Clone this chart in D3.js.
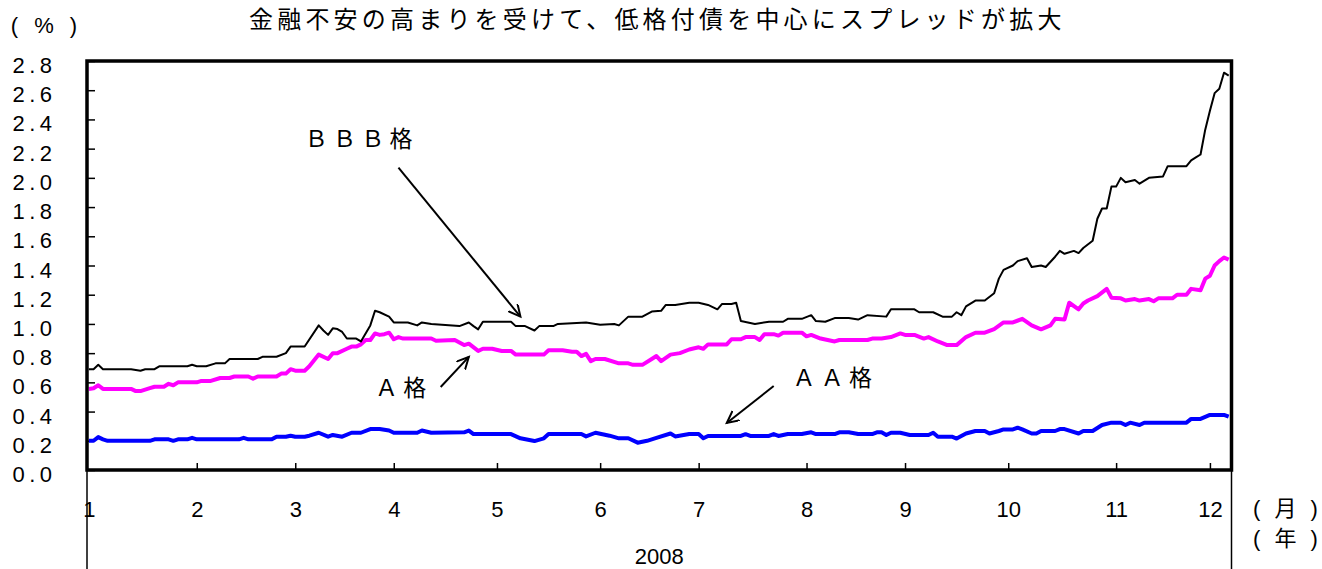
<!DOCTYPE html>
<html lang="ja">
<head>
    <meta charset="UTF-8">
    <title>社債スプレッド 2008</title>
    <!--D3 version 7-->
    <script src="https://d3js.org/d3.v7.min.js"></script>
</head>

<style>
    body {
        margin: 0;
        padding: 0;
        background: #fff;
    }

    svg {
        display: block;
    }

    .num {
        font-family: "Liberation Sans", Arial, sans-serif;
        font-size: 22px;
    }

    .cjk {
        font-family: "Noto Sans CJK JP", sans-serif;
    }
</style>

<body>
<div class="chart-container"></div>

<script>
  /** DATA: [date, spread %] */
  var bbbSeries = [
    ["2008-01-01", 0.69], ["2008-01-02", 0.69], ["2008-01-03", 0.72], ["2008-01-04", 0.69],
    ["2008-01-14", 0.69], ["2008-01-16", 0.68], ["2008-01-17", 0.69], ["2008-01-21", 0.69],
    ["2008-01-22", 0.71], ["2008-01-30", 0.71], ["2008-01-31", 0.72], ["2008-02-01", 0.71],
    ["2008-02-05", 0.71], ["2008-02-07", 0.73], ["2008-02-11", 0.73], ["2008-02-12", 0.76],
    ["2008-02-20", 0.76], ["2008-02-21", 0.775], ["2008-02-26", 0.775], ["2008-02-28", 0.80],
    ["2008-02-29", 0.845], ["2008-03-05", 0.845], ["2008-03-10", 0.99], ["2008-03-11", 0.955],
    ["2008-03-12", 0.925], ["2008-03-13", 0.97], ["2008-03-14", 0.965], ["2008-03-17", 0.945],
    ["2008-03-18", 0.90], ["2008-03-20", 0.90], ["2008-03-21", 0.88], ["2008-03-25", 0.99],
    ["2008-03-26", 1.09], ["2008-03-27", 1.08], ["2008-03-31", 1.05], ["2008-04-01", 1.01],
    ["2008-04-04", 1.01], ["2008-04-08", 0.99], ["2008-04-09", 1.01], ["2008-04-11", 1.00],
    ["2008-04-21", 0.985], ["2008-04-23", 1.01], ["2008-04-24", 0.985], ["2008-04-25", 0.963],
    ["2008-04-28", 1.015], ["2008-05-06", 1.015], ["2008-05-07", 0.985], ["2008-05-09", 0.985],
    ["2008-05-13", 0.955], ["2008-05-14", 0.985], ["2008-05-19", 0.985], ["2008-05-20", 1.00],
    ["2008-05-28", 1.01], ["2008-06-02", 0.995], ["2008-06-05", 1.00], ["2008-06-06", 0.99],
    ["2008-06-10", 1.05], ["2008-06-13", 1.05], ["2008-06-17", 1.085], ["2008-06-19", 1.09],
    ["2008-06-20", 1.13], ["2008-06-24", 1.13], ["2008-06-27", 1.145], ["2008-07-01", 1.145],
    ["2008-07-03", 1.13], ["2008-07-07", 1.10], ["2008-07-08", 1.137], ["2008-07-10", 1.137],
    ["2008-07-11", 1.145], ["2008-07-14", 1.02], ["2008-07-17", 1.00], ["2008-07-22", 1.015],
    ["2008-07-25", 1.015], ["2008-07-28", 1.035], ["2008-07-31", 1.035], ["2008-08-04", 1.06],
    ["2008-08-05", 1.02], ["2008-08-07", 1.015], ["2008-08-11", 1.04], ["2008-08-14", 1.04],
    ["2008-08-18", 1.03], ["2008-08-20", 1.06], ["2008-08-26", 1.05], ["2008-08-27", 1.10],
    ["2008-09-03", 1.10], ["2008-09-04", 1.08], ["2008-09-09", 1.08], ["2008-09-11", 1.05],
    ["2008-09-15", 1.05], ["2008-09-16", 1.08], ["2008-09-17", 1.06], ["2008-09-18", 1.12],
    ["2008-09-22", 1.16], ["2008-09-24", 1.16], ["2008-09-26", 1.21], ["2008-09-29", 1.31],
    ["2008-09-30", 1.37], ["2008-10-02", 1.40], ["2008-10-03", 1.43], ["2008-10-07", 1.45],
    ["2008-10-08", 1.39], ["2008-10-10", 1.40], ["2008-10-13", 1.39], ["2008-10-15", 1.46],
    ["2008-10-16", 1.50], ["2008-10-17", 1.48], ["2008-10-21", 1.50], ["2008-10-22", 1.485],
    ["2008-10-23", 1.52], ["2008-10-27", 1.57], ["2008-10-28", 1.72], ["2008-10-29", 1.79],
    ["2008-10-30", 1.79], ["2008-10-31", 1.94], ["2008-11-03", 1.94], ["2008-11-04", 2.00],
    ["2008-11-05", 1.97], ["2008-11-07", 1.985], ["2008-11-10", 1.96], ["2008-11-12", 2.00],
    ["2008-11-17", 2.01], ["2008-11-18", 2.08], ["2008-11-24", 2.08], ["2008-11-25", 2.12],
    ["2008-11-26", 2.14], ["2008-11-27", 2.16], ["2008-11-28", 2.33], ["2008-12-01", 2.46],
    ["2008-12-02", 2.58], ["2008-12-03", 2.61], ["2008-12-04", 2.72], ["2008-12-05", 2.70]
  ];

  var aSeries = [
    ["2008-01-01", 0.555], ["2008-01-02", 0.56], ["2008-01-03", 0.58], ["2008-01-04", 0.555],
    ["2008-01-14", 0.555], ["2008-01-15", 0.54], ["2008-01-16", 0.54], ["2008-01-18", 0.56],
    ["2008-01-21", 0.57], ["2008-01-23", 0.57], ["2008-01-24", 0.59], ["2008-01-25", 0.58],
    ["2008-01-28", 0.60], ["2008-02-01", 0.60], ["2008-02-04", 0.61], ["2008-02-06", 0.61],
    ["2008-02-08", 0.63], ["2008-02-12", 0.63], ["2008-02-13", 0.64], ["2008-02-18", 0.64],
    ["2008-02-19", 0.625], ["2008-02-20", 0.64], ["2008-02-26", 0.64], ["2008-02-27", 0.66],
    ["2008-02-28", 0.66], ["2008-02-29", 0.69], ["2008-03-03", 0.68], ["2008-03-05", 0.68],
    ["2008-03-06", 0.71], ["2008-03-10", 0.79], ["2008-03-12", 0.76], ["2008-03-13", 0.80],
    ["2008-03-14", 0.80], ["2008-03-18", 0.83], ["2008-03-19", 0.845], ["2008-03-20", 0.845],
    ["2008-03-21", 0.86], ["2008-03-24", 0.89], ["2008-03-25", 0.89], ["2008-03-26", 0.935],
    ["2008-03-27", 0.925], ["2008-03-28", 0.93], ["2008-03-31", 0.94], ["2008-04-01", 0.895],
    ["2008-04-02", 0.91], ["2008-04-03", 0.90], ["2008-04-11", 0.90], ["2008-04-14", 0.885],
    ["2008-04-18", 0.89], ["2008-04-22", 0.855], ["2008-04-23", 0.865], ["2008-04-25", 0.815],
    ["2008-04-28", 0.83], ["2008-04-30", 0.83], ["2008-05-02", 0.815], ["2008-05-06", 0.815],
    ["2008-05-07", 0.79], ["2008-05-15", 0.79], ["2008-05-16", 0.82], ["2008-05-21", 0.82],
    ["2008-05-23", 0.81], ["2008-05-26", 0.81], ["2008-05-27", 0.78], ["2008-05-28", 0.795],
    ["2008-05-29", 0.745], ["2008-05-30", 0.76], ["2008-06-03", 0.76], ["2008-06-06", 0.73],
    ["2008-06-10", 0.73], ["2008-06-11", 0.72], ["2008-06-13", 0.72], ["2008-06-17", 0.76],
    ["2008-06-18", 0.78], ["2008-06-19", 0.745], ["2008-06-23", 0.79], ["2008-06-25", 0.80],
    ["2008-06-27", 0.825], ["2008-07-01", 0.84], ["2008-07-02", 0.83], ["2008-07-03", 0.86],
    ["2008-07-09", 0.86], ["2008-07-10", 0.895], ["2008-07-14", 0.895], ["2008-07-15", 0.91],
    ["2008-07-17", 0.91], ["2008-07-18", 0.89], ["2008-07-21", 0.93], ["2008-07-23", 0.93],
    ["2008-07-24", 0.92], ["2008-07-25", 0.94], ["2008-07-31", 0.94], ["2008-08-01", 0.915],
    ["2008-08-04", 0.925], ["2008-08-06", 0.90], ["2008-08-11", 0.88], ["2008-08-12", 0.89],
    ["2008-08-20", 0.89], ["2008-08-21", 0.90], ["2008-08-25", 0.90], ["2008-08-27", 0.91],
    ["2008-08-29", 0.935], ["2008-09-01", 0.925], ["2008-09-03", 0.925], ["2008-09-05", 0.90],
    ["2008-09-08", 0.91], ["2008-09-10", 0.88], ["2008-09-12", 0.855], ["2008-09-16", 0.855],
    ["2008-09-18", 0.91], ["2008-09-22", 0.94], ["2008-09-24", 0.94], ["2008-09-26", 0.965],
    ["2008-09-30", 1.01], ["2008-10-02", 1.01], ["2008-10-06", 1.035], ["2008-10-08", 0.99],
    ["2008-10-10", 0.963], ["2008-10-14", 0.99], ["2008-10-15", 1.035], ["2008-10-17", 1.03],
    ["2008-10-20", 1.145], ["2008-10-22", 1.10], ["2008-10-23", 1.14], ["2008-10-24", 1.16],
    ["2008-10-28", 1.19], ["2008-10-30", 1.24], ["2008-10-31", 1.18], ["2008-11-04", 1.175],
    ["2008-11-05", 1.16], ["2008-11-07", 1.17], ["2008-11-10", 1.16], ["2008-11-12", 1.17],
    ["2008-11-13", 1.155], ["2008-11-14", 1.175], ["2008-11-19", 1.175], ["2008-11-20", 1.20],
    ["2008-11-24", 1.20], ["2008-11-25", 1.24], ["2008-11-27", 1.23], ["2008-11-28", 1.31],
    ["2008-12-01", 1.33], ["2008-12-02", 1.40], ["2008-12-03", 1.43], ["2008-12-04", 1.455],
    ["2008-12-05", 1.44]
  ];

  var aaSeries = [
    ["2008-01-01", 0.20], ["2008-01-02", 0.20], ["2008-01-03", 0.225], ["2008-01-04", 0.21],
    ["2008-01-07", 0.20], ["2008-01-18", 0.20], ["2008-01-21", 0.21], ["2008-01-24", 0.21],
    ["2008-01-25", 0.20], ["2008-01-28", 0.21], ["2008-01-30", 0.21], ["2008-01-31", 0.22],
    ["2008-02-01", 0.21], ["2008-02-14", 0.21], ["2008-02-15", 0.22], ["2008-02-18", 0.21],
    ["2008-02-25", 0.21], ["2008-02-26", 0.228], ["2008-02-28", 0.228], ["2008-02-29", 0.235],
    ["2008-03-03", 0.228], ["2008-03-05", 0.228], ["2008-03-06", 0.235], ["2008-03-10", 0.255],
    ["2008-03-12", 0.228], ["2008-03-13", 0.24], ["2008-03-17", 0.228], ["2008-03-19", 0.255],
    ["2008-03-21", 0.255], ["2008-03-25", 0.28], ["2008-03-27", 0.28], ["2008-03-31", 0.27],
    ["2008-04-01", 0.255], ["2008-04-08", 0.255], ["2008-04-09", 0.27], ["2008-04-11", 0.255],
    ["2008-04-22", 0.258], ["2008-04-23", 0.27], ["2008-04-24", 0.246], ["2008-05-06", 0.246],
    ["2008-05-08", 0.217], ["2008-05-13", 0.198], ["2008-05-15", 0.217], ["2008-05-16", 0.246],
    ["2008-05-27", 0.246], ["2008-05-28", 0.23], ["2008-05-30", 0.255], ["2008-06-04", 0.235],
    ["2008-06-06", 0.217], ["2008-06-10", 0.217], ["2008-06-12", 0.187], ["2008-06-16", 0.20],
    ["2008-06-18", 0.22], ["2008-06-23", 0.25], ["2008-06-24", 0.23], ["2008-06-27", 0.246],
    ["2008-07-01", 0.246], ["2008-07-02", 0.217], ["2008-07-03", 0.233], ["2008-07-14", 0.233],
    ["2008-07-15", 0.245], ["2008-07-16", 0.233], ["2008-07-22", 0.233], ["2008-07-23", 0.246],
    ["2008-07-24", 0.233], ["2008-07-28", 0.246], ["2008-07-31", 0.246], ["2008-08-04", 0.258],
    ["2008-08-05", 0.246], ["2008-08-11", 0.246], ["2008-08-12", 0.258], ["2008-08-14", 0.258],
    ["2008-08-18", 0.246], ["2008-08-21", 0.246], ["2008-08-22", 0.258], ["2008-08-25", 0.258],
    ["2008-08-26", 0.24], ["2008-08-27", 0.255], ["2008-08-29", 0.255], ["2008-09-02", 0.24],
    ["2008-09-08", 0.24], ["2008-09-09", 0.255], ["2008-09-10", 0.228], ["2008-09-15", 0.228],
    ["2008-09-16", 0.215], ["2008-09-18", 0.25], ["2008-09-22", 0.267], ["2008-09-24", 0.267],
    ["2008-09-25", 0.25], ["2008-09-29", 0.267], ["2008-09-30", 0.278], ["2008-10-02", 0.278],
    ["2008-10-03", 0.29], ["2008-10-06", 0.278], ["2008-10-08", 0.25], ["2008-10-09", 0.25],
    ["2008-10-10", 0.267], ["2008-10-15", 0.267], ["2008-10-16", 0.28], ["2008-10-17", 0.28],
    ["2008-10-22", 0.25], ["2008-10-23", 0.267], ["2008-10-27", 0.267], ["2008-10-29", 0.308],
    ["2008-10-31", 0.324], ["2008-11-04", 0.324], ["2008-11-05", 0.308], ["2008-11-06", 0.324],
    ["2008-11-10", 0.308], ["2008-11-11", 0.324], ["2008-11-24", 0.324], ["2008-11-25", 0.35],
    ["2008-11-27", 0.35], ["2008-12-01", 0.377], ["2008-12-04", 0.377], ["2008-12-05", 0.365]
  ];

  /** tick labels and texts */
  var monthLabels = ["1", "2", "3", "4", "5", "6", "7", "8", "9", "10", "11", "12"];
  var yTickValues = [0, 0.2, 0.4, 0.6, 0.8, 1.0, 1.2, 1.4, 1.6, 1.8, 2.0, 2.2, 2.4, 2.6, 2.8];
  var yearLabel = "2008";
  var titleText = "金融不安の高まりを受けて、低格付債を中心にスプレッドが拡大";

  /** label position + arrow, all in data units [date, %] */
  var annotations = [
    { label: "ＢＢＢ格", labelAt: ["2008-03-05", 2.21], from: ["2008-04-02", 2.07], to: ["2008-05-08", 1.05] },
    { label: "Ａ格", labelAt: ["2008-03-26", 0.507], from: ["2008-04-15", 0.568], to: ["2008-04-23", 0.774] },
    { label: "ＡＡ格", labelAt: ["2008-07-29", 0.575], from: ["2008-07-23", 0.575], to: ["2008-07-09", 0.322] }
  ];

  /** LAYOUT */
  var width = 1322, height = 569;
  var plotLeft = 87, plotRight = 1231.5, plotTop = 61, plotBottom = 470;

  var svg = d3.select('.chart-container')
    .append('svg')
    .attr('width', width)
    .attr('height', height);

  /** x axis counts business days (Mon-Fri), like the original category axis */
  var parseDate = d3.timeParse('%Y-%m-%d');
  var yearStart = new Date(2008, 0, 1);

  function businessDay(date) {
    return d3.timeDay.range(yearStart, date)
      .filter(function (d) { return d.getDay() !== 0 && d.getDay() !== 6; })
      .length;
  }

  function dayOf(s) { return businessDay(parseDate(s)); }

  var lastDay = dayOf(bbbSeries[bbbSeries.length - 1][0]);

  var x = d3.scaleLinear()
    .domain([-0.4, lastDay + 0.6])
    .range([plotLeft, plotRight]);

  var y = d3.scaleLinear()
    .domain([0, 2.8])
    .range([plotBottom, plotTop]);

  /** TITLE */
  svg.append('text')
    .attr('class', 'cjk')
    .attr('x', 249)
    .attr('y', 28)
    .attr('font-size', 24)
    .attr('letter-spacing', 4.2)
    .text(titleText);

  /** unit label */
  svg.append('text')
    .attr('class', 'num')
    .attr('x', 10.7)
    .attr('y', 33)
    .attr('font-size', 20)
    .attr('letter-spacing', 5)
    .text('( % )');

  /** Y AXIS (ticks point into the plot) */
  var yAxis = svg.append('g')
    .attr('transform', 'translate(' + plotLeft + ',0)')
    .call(d3.axisLeft(y)
      .tickValues(yTickValues)
      .tickFormat(d3.format('.1f'))
      .tickSizeInner(-8)
      .tickSizeOuter(0));
  yAxis.select('.domain').remove();
  yAxis.selectAll('.tick line').attr('stroke', '#000').attr('stroke-width', 1.5);
  yAxis.selectAll('.tick text')
    .attr('class', 'num')
    .attr('font-size', null)
    .attr('font-family', null)
    .attr('x', -30.5)
    .attr('dy', 11.5)
    .attr('letter-spacing', 4.5)
    .attr('fill', '#000');

  /** X AXIS: a tick at the first business day of each month */
  var monthTicks = monthLabels.map(function (m, i) {
    return businessDay(new Date(2008, i, 1));
  });

  var xAxis = svg.append('g')
    .attr('transform', 'translate(0,' + plotBottom + ')')
    .call(d3.axisBottom(x)
      .tickValues(monthTicks)
      .tickFormat(function (d, i) { return monthLabels[i]; })
      .tickSizeInner(-7)
      .tickSizeOuter(0));
  xAxis.select('.domain').remove();
  xAxis.selectAll('.tick line')
    .attr('stroke', '#000')
    .attr('stroke-width', 1.5)
    .attr('display', function (d, i) { return i === 0 ? 'none' : null; });
  xAxis.selectAll('.tick text')
    .attr('class', 'num')
    .attr('font-size', null)
    .attr('font-family', null)
    .attr('y', 47)
    .attr('dy', 0)
    .attr('fill', '#000');

  /** year level of the axis: two thin separators and the year */
  svg.selectAll('line.year-sep')
    .data([x.range()[0], x.range()[1]])
    .enter().append('line')
    .attr('class', 'year-sep')
    .attr('x1', function (d) { return d; })
    .attr('x2', function (d) { return d; })
    .attr('y1', plotBottom)
    .attr('y2', height)
    .attr('stroke', '#000')
    .attr('stroke-width', 1.5);

  svg.append('text')
    .attr('class', 'num')
    .attr('x', (plotLeft + plotRight) / 2)
    .attr('y', 564)
    .attr('font-size', 23)
    .attr('text-anchor', 'middle')
    .text(yearLabel);

  var unitFont = '"Liberation Sans", "Noto Sans CJK JP", sans-serif';

  svg.append('text')
    .attr('class', 'num')
    .attr('x', 1253)
    .attr('y', 516)
    .attr('letter-spacing', 4)
    .style('font-family', unitFont)
    .text('( 月 )');

  svg.append('text')
    .attr('class', 'num')
    .attr('x', 1253)
    .attr('y', 546)
    .attr('letter-spacing', 4)
    .style('font-family', unitFont)
    .text('( 年 )');

  /** LINES */
  var line = d3.line()
    .x(function (d) { return x(dayOf(d[0])); })
    .y(function (d) { return y(d[1]); });

  var seriesList = [
    { data: aaSeries, color: '#0000ff', width: 4 },
    { data: aSeries, color: '#ff00ff', width: 4 },
    { data: bbbSeries, color: '#000000', width: 2 }
  ];

  svg.append('g')
    .selectAll('path')
    .data(seriesList)
    .enter().append('path')
    .attr('d', function (s) { return line(s.data); })
    .attr('fill', 'none')
    .attr('stroke', function (s) { return s.color; })
    .attr('stroke-width', function (s) { return s.width; })
    .attr('stroke-linejoin', 'round');

  /** PLOT FRAME */
  svg.append('rect')
    .attr('x', plotLeft)
    .attr('y', plotTop)
    .attr('width', plotRight - plotLeft)
    .attr('height', plotBottom - plotTop)
    .attr('fill', 'none')
    .attr('stroke', '#000')
    .attr('stroke-width', 3.5);

  /** ANNOTATIONS */
  svg.append('defs').append('marker')
    .attr('id', 'arrow-head')
    .attr('markerUnits', 'userSpaceOnUse')
    .attr('markerWidth', 16)
    .attr('markerHeight', 16)
    .attr('refX', 12)
    .attr('refY', 6)
    .attr('orient', 'auto')
    .append('path')
    .attr('d', 'M0,0 L12,6 L0,12')
    .attr('fill', 'none')
    .attr('stroke', '#000')
    .attr('stroke-width', 2);

  var note = svg.append('g')
    .selectAll('g')
    .data(annotations)
    .enter().append('g');

  note.append('line')
    .attr('x1', function (a) { return x(dayOf(a.from[0])); })
    .attr('y1', function (a) { return y(a.from[1]); })
    .attr('x2', function (a) { return x(dayOf(a.to[0])); })
    .attr('y2', function (a) { return y(a.to[1]); })
    .attr('stroke', '#000')
    .attr('stroke-width', 2)
    .attr('marker-end', 'url(#arrow-head)');

  note.append('text')
    .attr('class', 'cjk')
    .attr('x', function (a) { return x(dayOf(a.labelAt[0])); })
    .attr('y', function (a) { return y(a.labelAt[1]); })
    .attr('font-size', 23)
    .attr('letter-spacing', 5.3)
    .text(function (a) { return a.label; });
</script>
</body>
</html>
